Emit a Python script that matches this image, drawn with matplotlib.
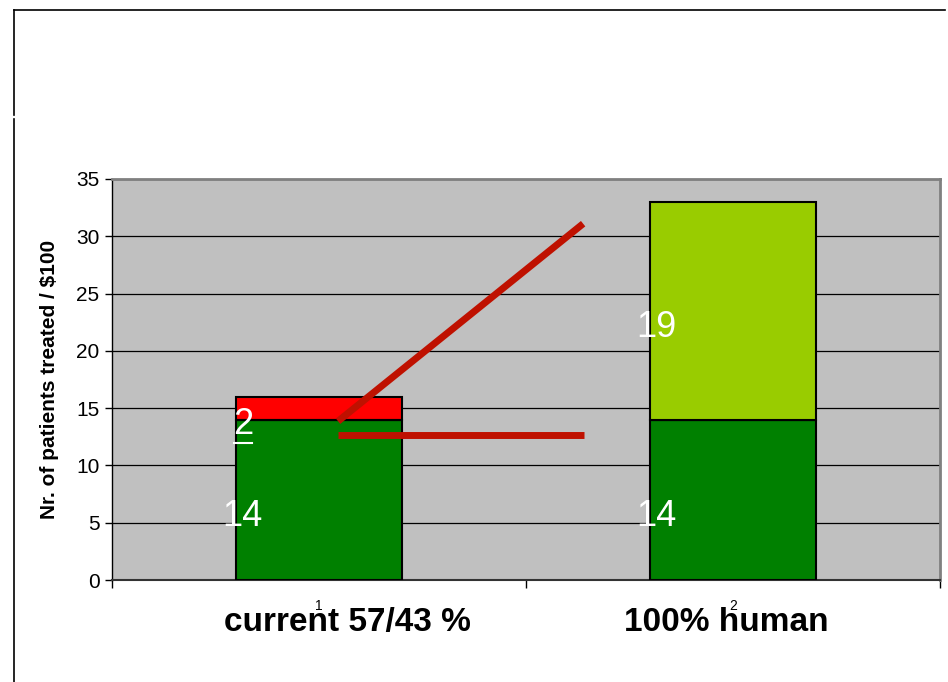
import matplotlib.pyplot as plt
from matplotlib.lines import Line2D

# Stacked bar values
groups = ['1', '2']
group_titles = ['current 57/43 %', '100% human']
base = [14, 14]          # dark green segment
extra_red = [2, 0]       # red segment on top of bar 1
extra_green = [0, 19]    # light green segment on top of bar 2

# Red trend lines (x in category units, y in patients)
diag_x = [0.046, 0.638]
diag_y = [13.86, 31.1]
flat_x = [0.046, 0.64]
flat_y = [12.64, 12.64]

plt.rcParams['font.family'] = ['Liberation Sans', 'DejaVu Sans']

fig = plt.figure(figsize=(9.48, 6.82), dpi=100)
ax = fig.add_axes([112 / 948, 102 / 682, 828 / 948, 401 / 682])
ax.set_facecolor('#C0C0C0')

x = list(range(len(groups)))
width = 0.4
ax.bar(x, base, width, color='#008000', edgecolor='black', linewidth=1.5, zorder=3)
ax.bar(x, extra_red, width, bottom=base, color='#FF0000', edgecolor='black', linewidth=1.5, zorder=3)
ax.bar(x, extra_green, width, bottom=base, color='#99CC00', edgecolor='black', linewidth=1.5, zorder=3)

# segment value labels, white, near the left edge of each bar
def seg_label(xi, bottom, val):
    return ax.annotate(str(val), (xi - width / 2 + 0.016, bottom + val / 2),
                       xytext=(0, -12), textcoords='offset points',
                       ha='center', va='center', color='white', fontsize=26, zorder=5)

labels_under = []
for i in x:
    seg_label(i, 0, base[i])
    if extra_red[i]:
        labels_under.append(seg_label(i, base[i], extra_red[i]))
    if extra_green[i]:
        seg_label(i, base[i], extra_green[i])

ax.plot(diag_x, diag_y, color='#BF1100', linewidth=5, solid_capstyle='butt', zorder=4)
ax.plot(flat_x, flat_y, color='#BF1100', linewidth=5, solid_capstyle='butt', zorder=4)

ax.set_xlim(-0.5, 1.5)
ax.set_ylim(0, 35)
ax.set_yticks(range(0, 36, 5))
ax.yaxis.grid(True, color='black', linewidth=0.9, zorder=1)
ax.set_axisbelow(True)
ax.tick_params(axis='y', direction='out', length=5, width=1, labelsize=15, pad=4)

ax.set_xticks(x)
ax.set_xticklabels(groups, fontsize=10)
ax.set_xticks([-0.5, 0.5, 1.5], minor=True)
ax.tick_params(axis='x', which='major', length=0, pad=14)
ax.tick_params(axis='x', which='minor', length=6, width=1, direction='out')

for s in ['top', 'right']:
    ax.spines[s].set_color('#808080')
    ax.spines[s].set_linewidth(2)
ax.spines['left'].set_linewidth(1)
ax.spines['bottom'].set_color('#333333')
ax.spines['bottom'].set_linewidth(1.5)

ax.set_ylabel('Nr. of patients treated / $100', fontsize=15, fontweight='bold', labelpad=12)

# big category titles under the axis
title_x = [0.068, 0.985]
for tx, title in zip(title_x, group_titles):
    ax.text(tx, -3.75, title, ha='center', va='center', fontsize=24,
            fontweight='bold', transform=ax.transData, clip_on=False)

# frame lines around the chart object
fig.add_artist(Line2D([14 / 948, 945 / 948], [1 - 10 / 682, 1 - 10 / 682], color='black', linewidth=1.2))
fig.add_artist(Line2D([14 / 948, 14 / 948], [1 - 10 / 682, 1 - 115 / 682], color='black', linewidth=1.2))
fig.add_artist(Line2D([14 / 948, 14 / 948], [1 - 119 / 682, 0], color='black', linewidth=1.2))

# underline the small red-segment value
fig.canvas.draw()
r = fig.canvas.get_renderer()
for t in labels_under:
    bb = t.get_window_extent(r)
    y0 = (bb.y0 - 1) / fig.bbox.height
    fig.add_artist(Line2D([(bb.x0 + 1) / fig.bbox.width, (bb.x1 - 1) / fig.bbox.width],
                          [y0, y0], color='white', linewidth=1.5))

fig.savefig('out.png', dpi=100)
